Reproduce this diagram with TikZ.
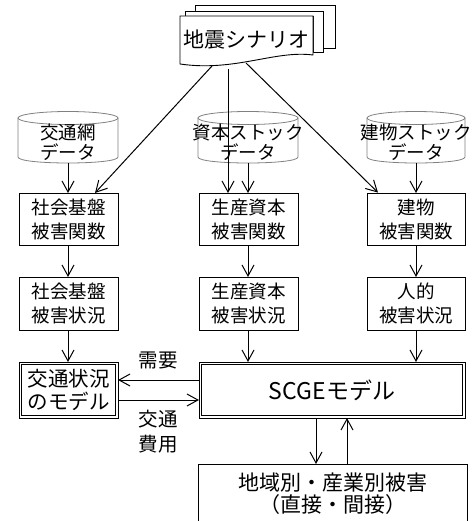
\documentclass[tikz,border=0pt]{standalone}
\usepackage{fontspec}
\setmainfont{Noto Sans CJK JP}
\usetikzlibrary{arrows.meta}
\tikzset{
  every node/.style={inner sep=0pt,outer sep=0pt},
  boxnode/.style={draw,line width=0.9pt,minimum width=99pt,minimum height=52pt,align=center,font=\fontsize{18.5}{24}\selectfont},
  dblnode/.style={draw,line width=0.9pt,minimum height=56pt,align=center},
  innerline/.style={line width=0.7pt},
  cylline/.style={draw=gray,line width=0.8pt},
  cyltext/.style={align=center,font=\fontsize{18.5}{20}\selectfont},
  lbl/.style={align=center,font=\fontsize{19.5}{25}\selectfont},
  arr/.style={line width=1pt,-{Straight Barb[length=11pt,width=12pt,line width=1pt]}},
  docline/.style={draw,fill=white,line width=0.9pt}
}
\begin{document}
\begin{tikzpicture}[x=1pt,y=-1pt]
\useasboundingbox (0,0) rectangle (475,521);
% scenario document stack
\path[docline] (195,5) -- (335,5) -- (335,48) -- (323,48) -- (323,11) -- (195,11) -- cycle;
\path[docline] (185,11) -- (323,11) -- (323,52) -- (313,52) -- (313,16) -- (185,16) -- cycle;
\path[docline] (180,16) -- (313,16) -- (313,55) .. controls (275,50) and (235,72) .. (180,64) -- cycle;
\node[font=\fontsize{21}{24}\selectfont] (scen) at (246,40) {地震シナリオ};
\coordinate (sL) at (212,66);
\coordinate (sM) at (228,69);
\coordinate (sR) at (246,63);
% cylinders
\foreach \cx/\rx in {68/50,248/50,416/49}{
  \draw[cylline] (\cx,118) ellipse [x radius=\rx pt, y radius=6.5pt];
  \draw[cylline] (\cx-\rx,118) -- (\cx-\rx,157) .. controls (\cx-\rx,165) and (\cx+\rx,165) .. (\cx+\rx,157) -- (\cx+\rx,118);
}
\node[cyltext] (c1) at (68,142) {交通網\\データ};
\node[cyltext] (c2) at (248,142) {資本ストック\\データ};
\node[cyltext] (c3) at (416,142) {建物ストック\\データ};
\coordinate (c1b) at (68,163);
\coordinate (c2b) at (248,163);
\coordinate (c3b) at (416,163);
% boxes
\node[boxnode] (f1) at (68.5,219) {社会基盤\\被害関数};
\node[boxnode] (f2) at (248.5,219) {生産資本\\被害関数};
\node[boxnode,minimum width=98pt] (f3) at (416,219) {建物\\被害関数};
\node[boxnode,minimum height=53pt] (s1) at (68.5,303.5) {社会基盤\\被害状況};
\node[boxnode,minimum height=53pt] (s2) at (248.5,303.5) {生産資本\\被害状況};
\node[boxnode,minimum height=53pt,minimum width=98pt] (s3) at (416,303.5) {人的\\被害状況};
\node[dblnode,minimum width=99pt,font=\fontsize{20.5}{23}\selectfont] (tm) at (68.5,390) {交通状況\\のモデル};
\node[dblnode,minimum width=266pt,font=\fontsize{23}{26}\selectfont] (scge) at (332,390) {SCGEモデル};
\draw[innerline] ([xshift=2.5pt,yshift=-2.5pt]tm.north west) rectangle ([xshift=-2.5pt,yshift=2.5pt]tm.south east);
\draw[innerline] ([xshift=2.5pt,yshift=-2.5pt]scge.north west) rectangle ([xshift=-2.5pt,yshift=2.5pt]scge.south east);
\node[draw,line width=0.9pt,minimum width=269pt,minimum height=60pt,align=center,font=\fontsize{21}{22}\selectfont] (out) at (332.5,494) {地域別・産業別被害\\（直接・間接）};
% labels
\node[lbl] (dem) at (158,360) {需要};
\node[lbl] (cost) at (158,432) {交通\\費用};
% arrows
\draw[arr] (sL) -- (f1.north -| 95,0);
\draw[arr] (sM) -- (f2.north -| 228,0);
\draw[arr] (sR) -- (378,192.6);
\draw[arr] (c1b) -- (f1.north -| c1b);
\draw[arr] (c2b) -- (f2.north -| c2b);
\draw[arr] (c3b) -- (f3.north -| c3b);
\draw[arr] (f1.south -| c1b) -- (s1.north -| c1b);
\draw[arr] (f2.south -| c2b) -- (s2.north -| c2b);
\draw[arr] (f3.south -| c3b) -- (s3.north -| c3b);
\draw[arr] (s1.south -| c1b) -- (tm.north -| c1b);
\draw[arr] (s2.south -| c2b) -- (scge.north -| c2b);
\draw[arr] (s3.south -| c3b) -- (scge.north -| c3b);
\draw[arr] (scge.west |- 0,380) -- (tm.east |- 0,380);
\draw[arr] (tm.east |- 0,400) -- (scge.west |- 0,400);
\draw[arr] (scge.south -| 316,0) -- (out.north -| 316,0);
\draw[arr] (out.north -| 347,0) -- (scge.south -| 347,0);
\end{tikzpicture}
\end{document}
